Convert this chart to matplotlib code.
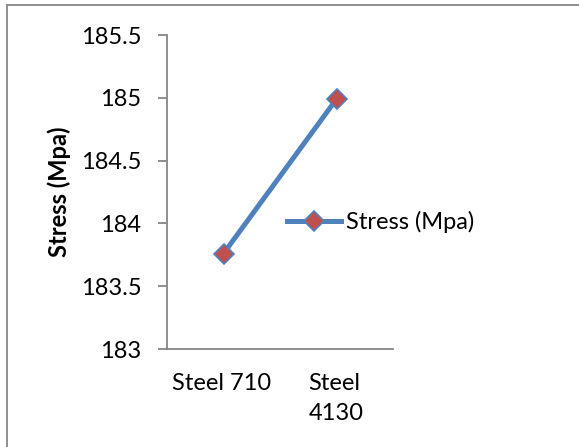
import matplotlib.pyplot as plt
import matplotlib.transforms as mtrans
from matplotlib.lines import Line2D

materials = ["Steel 710", "Steel\n4130"]
stress = [183.76, 184.99]
yticks = [183, 183.5, 184, 184.5, 185, 185.5]
ytick_labels = ["183", "183.5", "184", "184.5", "185", "185.5"]

plt.rcParams['font.family'] = ['Lato', 'DejaVu Sans']
FS = 17

fig = plt.figure(figsize=(5.79, 4.47), dpi=100)
ax = fig.add_axes([167 / 579, 1 - 349 / 447, 226 / 579, 314 / 447])

line_col = '#4F81BD'
mark_col = '#C0504D'
axis_col = '#868686'

ax.plot(range(len(materials)), stress, color=line_col, lw=3.6,
        marker='D', ms=10.5, mfc=mark_col, mec=line_col, mew=1.2,
        label='Stress (Mpa)')

ax.set_xlim(-0.5, 1.5)
ax.set_ylim(183, 185.5)
ax.set_yticks(yticks)
ax.set_yticklabels(ytick_labels)
ax.set_xticks(range(len(materials)))
ax.set_xticklabels(materials, ha='left', multialignment='left', linespacing=1.55)

for s in ['top', 'right']:
    ax.spines[s].set_visible(False)
for s in ['left', 'bottom']:
    ax.spines[s].set_color(axis_col)
    ax.spines[s].set_linewidth(1.3)

ax.tick_params(axis='y', direction='out', length=6.5, width=1.3,
               color=axis_col, labelsize=FS, pad=12)
ax.tick_params(axis='x', length=0, labelsize=FS, pad=17)

# shift category labels so they sit like Excel's wrapped labels
shifts = [-0.51, -0.28]
for lbl, dx in zip(ax.get_xticklabels(), shifts):
    lbl.set_transform(lbl.get_transform() + mtrans.ScaledTranslation(dx, 0, fig.dpi_scale_trans))

ax.set_ylabel('Stress (Mpa)', fontweight='bold', fontsize=FS, labelpad=7)

handle = Line2D([], [], color=line_col, lw=3.6, marker='D', ms=10.5,
                mfc=mark_col, mec=line_col, mew=1.2)
fig.legend([handle], ['Stress (Mpa)'], loc='center left',
           bbox_to_anchor=(287 / 579, 1 - 222 / 447), frameon=False,
           fontsize=FS, handlelength=2.3, handletextpad=0.2,
           borderaxespad=0, borderpad=0)

# chart border (only top and left edges visible)
fig.add_artist(Line2D([7 / 579, 7 / 579], [0, 1 - 5 / 447],
                      transform=fig.transFigure, color=axis_col, lw=1.3))
fig.add_artist(Line2D([7 / 579, 1], [1 - 5 / 447, 1 - 5 / 447],
                      transform=fig.transFigure, color=axis_col, lw=1.3))

fig.savefig('out.png', dpi=100)
